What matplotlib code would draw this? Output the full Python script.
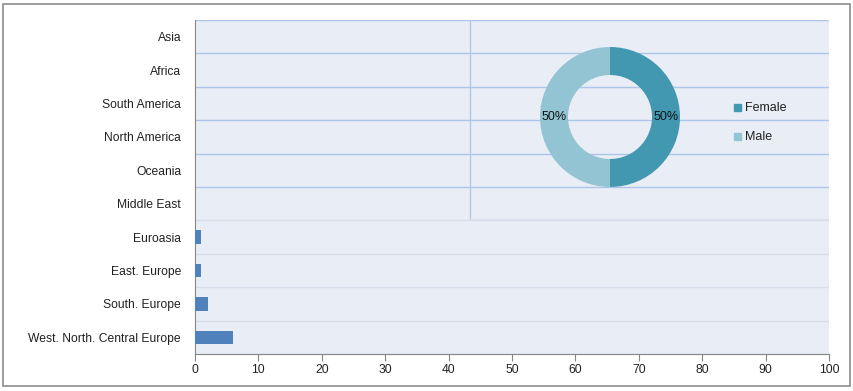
import numpy as np
import matplotlib.pyplot as plt
from matplotlib.patches import Rectangle

# bar chart data (bottom to top)
regions = ['West. North. Central Europe', 'South. Europe', 'East. Europe', 'Euroasia',
           'Middle East', 'Oceania', 'North America', 'South America', 'Africa', 'Asia']
counts = [6, 2, 1, 1, 0, 0, 0, 0, 0, 0]
xticks = [0, 10, 20, 30, 40, 50, 60, 70, 80, 90, 100]

# donut data
genders = ['Female', 'Male']
shares = [50, 50]

W, H = 854, 391
BG = '#e9edf5'
BAR = '#4f81bd'
GENDER_COLORS = ['#4298b0', '#93c4d4']

plt.rcParams['font.family'] = ['Liberation Sans', 'DejaVu Sans']

fig = plt.figure(figsize=(W / 100, H / 100), dpi=100)

def px(x0, y0, x1, y1):
    """pixel box (top-left origin) -> figure fraction rect"""
    return [x0 / W, 1 - y1 / H, (x1 - x0) / W, (y1 - y0) / H]

# outer chart border
fig.patches.append(Rectangle((3 / W, 1 - 386 / H), 847 / W, 382 / H, transform=fig.transFigure,
                             fill=False, edgecolor='#8c8c8c', linewidth=1.2))

ax = fig.add_axes(px(195, 20, 829, 354))
ax.set_facecolor(BG)
y = np.arange(len(regions))
ax.barh(y, counts, height=0.4, color=BAR, zorder=3)
ax.set_xlim(0, 100)
ax.set_ylim(-0.5, len(regions) - 0.5)
ax.set_yticks(y)
ax.set_yticklabels(regions, fontsize=8.7, color='#222222')
ax.tick_params(axis='y', length=0, pad=10)
ax.set_xticks(xticks)
ax.tick_params(axis='x', length=5, color='#868686', labelsize=8.7, labelcolor='#222222', pad=2.5)

# horizontal gridlines between rows
for b in np.arange(len(regions) + 1) - 0.5:
    col = '#adc5ea' if b > 3.6 else '#d6deec'
    ax.axhline(b, color=col, linewidth=1, zorder=1)

for s in ['top', 'right']:
    ax.spines[s].set_visible(False)
for s in ['left', 'bottom']:
    ax.spines[s].set_color('#868686')

# overlaid donut plot area border
ax.plot([43.4, 43.4], [3.55, 9.5], color='#b4c8ea', linewidth=1, zorder=2)
ax.plot([43.4, 100], [3.55, 3.55], color='#dde4f0', linewidth=1, zorder=2)

# donut chart
pax = fig.add_axes(px(540, 47, 680, 187))
pax.pie(shares, colors=GENDER_COLORS, startangle=90, counterclock=False, radius=1,
        wedgeprops=dict(width=0.4, edgecolor='none'))
pax.set_xlim(-1, 1)
pax.set_ylim(-1, 1)
pax.set_aspect('equal')
pax.axis('off')
pax.text(0.8, 0, '50%', ha='center', va='center', fontsize=9, color='#111111')
pax.text(-0.8, 0, '50%', ha='center', va='center', fontsize=9, color='#111111')

# legend
for i, (g, c) in enumerate(zip(genders, GENDER_COLORS)):
    ly = 107 + i * 29
    fig.patches.append(Rectangle((734 / W, 1 - (ly + 4) / H), 7 / W, 7 / H,
                                 transform=fig.transFigure, color=c))
    fig.text(745 / W, 1 - (ly + 1) / H, g, fontsize=9, va='center', ha='left', color='#222222')

fig.savefig('out.png', dpi=100)
